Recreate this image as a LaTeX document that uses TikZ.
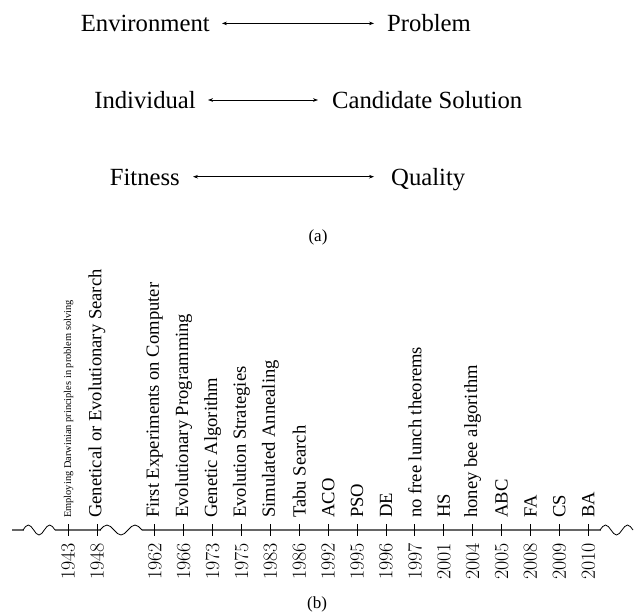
\documentclass[tikz,border=0pt]{standalone}
\usepackage{fontspec}
\newfontfamily\tms{Liberation Serif}
\usetikzlibrary{arrows.meta}
\begin{document}
\begin{tikzpicture}[x=1pt,y=-1pt,
  toplbl/.style={font=\tms\fontsize{24.7}{28}\selectfont, inner sep=0pt},
  twoway/.style={{Stealth[length=5pt,width=3.6pt]}-{Stealth[length=5pt,width=3.6pt]}, line width=0.6pt},
  caplbl/.style={font=\tms\fontsize{17}{20}\selectfont, inner sep=0pt},
  evlbl/.style={font=\tms\fontsize{18.6}{22}\selectfont, inner sep=0pt, rotate=90, anchor=west},
  tinylbl/.style={font=\tms\fontsize{10.4}{12}\selectfont, inner sep=0pt, rotate=90, anchor=west},
  yrlbl/.style={font=\fontsize{20}{24}\selectfont, inner sep=0pt, rotate=90, anchor=east},
  axisline/.style={draw=black!60, line width=1.2pt},
  wavy/.style={draw=black, line width=0.8pt},
  tickmark/.style={draw=black, line width=0.9pt}]
\useasboundingbox (0,0) rectangle (636,615);

% (a) correspondences
\node[toplbl, anchor=base east] (env) at (210,31.7) {Environment};
\node[toplbl, anchor=base west] (prob) at (387,31.7) {Problem};
\draw[twoway, shorten <=12pt, shorten >=13pt] ([yshift=8.3pt]env.base east) -- ([yshift=8.3pt]prob.base west);

\node[toplbl, anchor=base east] (ind) at (196,108.3) {Individual};
\node[toplbl, anchor=base west] (cand) at (332,108.3) {Candidate Solution};
\draw[twoway, shorten <=12pt, shorten >=14pt] ([yshift=8.3pt]ind.base east) -- ([yshift=8.3pt]cand.base west);

\node[toplbl, anchor=base east] (fit) at (180,185) {Fitness};
\node[toplbl, anchor=base west] (qual) at (391,185) {Quality};
\draw[twoway, shorten <=13pt, shorten >=17pt] ([yshift=8.3pt]fit.base east) -- ([yshift=8.3pt]qual.base west);

\node[caplbl] (capa) at (318,237) {(a)};

% (b) timeline
\path[axisline] (12,530) -- (23.5,530);
\path[axisline] (55,530) -- (100.5,530);
\path[axisline] (142,530) -- (600.5,530);
\path[wavy] (23,530) sin (28.3,525) cos (33.7,530) sin (39,535) cos (44.3,530) sin (49.7,525) cos (55,530);
\path[wavy] (100,530) sin (107,525) cos (114,530) sin (121,535) cos (128,530) sin (135,525) cos (142,530);
\path[wavy] (600,530) sin (605.5,525) cos (611,530) sin (616.5,535) cos (622,530) sin (627.5,525) cos (633,530);

\foreach \i/\yr/\lbl in {1/1948/Genetical or Evolutionary Search,
  3/1962/First Experiments on Computer, 4/1966/Evolutionary Programming,
  5/1973/Genetic Algorithm, 6/1975/Evolution Strategies,
  7/1983/Simulated Annealing, 8/1986/Tabu Search, 9/1992/ACO,
  10/1995/PSO, 11/1996/DE, 12/1997/no free lunch theorems, 13/2001/HS,
  14/2004/honey bee algorithm, 15/2005/ABC, 16/2008/FA, 17/2009/CS, 18/2010/BA}{
  \path[tickmark] ({68.1+28.9*\i},524) -- ({68.1+28.9*\i},536);
  \node[evlbl] (ev\i) at ({68.1+28.9*\i},518) {\lbl};
  \node[yrlbl] (yr\i) at ({68.1+28.9*\i},543) {\yr};
}
\path[tickmark] (68.1,524) -- (68.1,536);
\node[tinylbl] (ev0) at (68.6,518) {Employing Darwinian principles in problem solving};
\node[yrlbl] (yr0) at (68.1,543) {1943};

\node[caplbl] (capb) at (317,604) {(b)};
\end{tikzpicture}
\end{document}
